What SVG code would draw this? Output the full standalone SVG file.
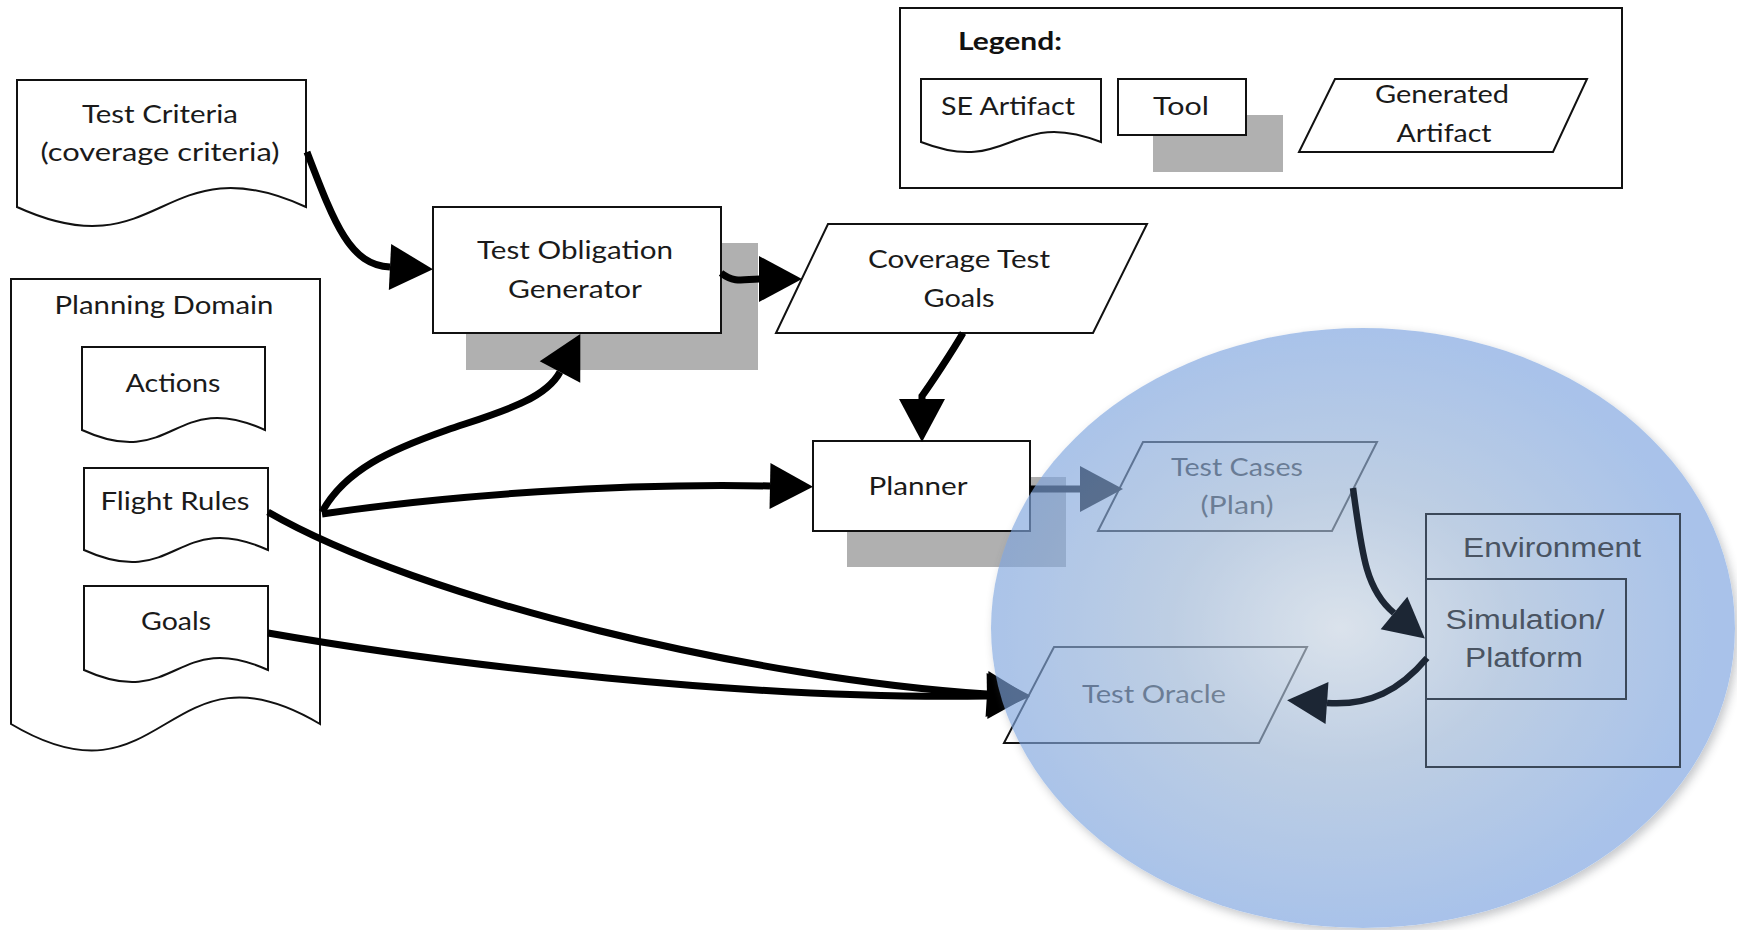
<svg xmlns="http://www.w3.org/2000/svg" width="1737" height="930" viewBox="0 0 1737 930">
  <style>
    .node { fill: #ffffff; stroke: #111111; stroke-width: 2; }
    .shadow { fill: #b0b0b0; stroke: none; }
    .t { font-family: Lato, "Liberation Sans", sans-serif; font-size: 25px; fill: #1a1a1a; text-anchor: middle; }
    .title { font-family: Lato, "Liberation Sans", sans-serif; font-size: 24px; font-weight: bold; fill: #111111; }
    .env-box { fill: none; stroke: #3b4859; stroke-width: 2; }
    .env-t { font-family: "Liberation Sans", Arial, sans-serif; font-size: 27px; fill: #4a5462; text-anchor: middle; }
    .conn { fill: none; stroke: #000000; stroke-width: 7; stroke-linecap: butt; }
    .conn-dark { fill: none; stroke: #1c2634; stroke-width: 6.5; }
  </style>
  <defs>
    <marker id="head" markerUnits="userSpaceOnUse" markerWidth="44" markerHeight="46" refX="0" refY="23" orient="auto" overflow="visible">
      <path d="M0,0 L43,23 L0,46 Z" fill="#000000"/>
    </marker>
    <marker id="head-dark" markerUnits="userSpaceOnUse" markerWidth="42" markerHeight="42" refX="0" refY="21" orient="auto" overflow="visible">
      <path d="M0,0 L40,21 L0,42 Z" fill="#1c2634"/>
    </marker>
    <radialGradient id="regionFill" cx="0.47" cy="0.5" r="0.5">
      <stop offset="0" stop-color="#c8d4e2"/>
      <stop offset="0.45" stop-color="#9cb5d5"/>
      <stop offset="1" stop-color="#7ba3df"/>
    </radialGradient>
    <filter id="rimShadow" x="-5%" y="-5%" width="110%" height="112%">
      <feGaussianBlur in="SourceAlpha" stdDeviation="5"/>
      <feOffset dx="3" dy="4" result="blur"/>
      <feFlood flood-color="#4a4f58" flood-opacity="0.5"/>
      <feComposite in2="blur" operator="in"/>
      <feComposite in2="SourceAlpha" operator="out" result="rim"/>
      <feMerge>
        <feMergeNode in="rim"/>
        <feMergeNode in="SourceGraphic"/>
      </feMerge>
    </filter>
  </defs>

  <rect x="0" y="0" width="1737" height="930" fill="#ffffff"/>

  <!-- Legend -->
  <g id="legend">
    <rect x="900" y="8" width="722" height="180" fill="#ffffff" stroke="#111111" stroke-width="2"/>
    <text class="title" x="958" y="50" textLength="104" lengthAdjust="spacingAndGlyphs">Legend:</text>
    <g id="legend-se-artifact">
      <path class="node" d="M921,79 H1101 V142 C1011,107 1011,177 921,142 Z"/>
      <text class="t" x="1008" y="115" textLength="134" lengthAdjust="spacingAndGlyphs">SE Artifact</text>
    </g>
    <g id="legend-tool">
      <rect class="shadow" x="1153" y="115" width="130" height="57"/>
      <rect class="node" x="1118" y="79" width="128" height="56"/>
      <text class="t" x="1181" y="115" textLength="56" lengthAdjust="spacingAndGlyphs">Tool</text>
    </g>
    <g id="legend-generated">
      <polygon class="node" points="1335,79 1587,79 1553,152 1299,152"/>
      <text class="t" x="1442" y="103" textLength="134" lengthAdjust="spacingAndGlyphs">Generated</text>
      <text class="t" x="1444" y="142" textLength="95" lengthAdjust="spacingAndGlyphs">Artifact</text>
    </g>
  </g>

  <!-- Nodes -->
  <g id="test-criteria">
    <path class="node" d="M17,80 H306 V207 C161.5,141 161.5,273 17,207 Z"/>
    <text class="t" x="160" y="123" textLength="156" lengthAdjust="spacingAndGlyphs">Test Criteria</text>
    <text class="t" x="160" y="161" textLength="239" lengthAdjust="spacingAndGlyphs">(coverage criteria)</text>
  </g>

  <g id="test-obligation-generator">
    <rect class="shadow" x="466" y="243" width="292" height="127"/>
    <rect class="node" x="433" y="207" width="288" height="126"/>
    <text class="t" x="575" y="259" textLength="196" lengthAdjust="spacingAndGlyphs">Test Obligation</text>
    <text class="t" x="575" y="298" textLength="134" lengthAdjust="spacingAndGlyphs">Generator</text>
  </g>

  <g id="planning-domain">
    <path class="node" d="M11,279 H320 V724 C165.5,632 165.5,816 11,724 Z"/>
    <text class="t" x="164" y="314" textLength="219" lengthAdjust="spacingAndGlyphs">Planning Domain</text>
  </g>

  <g id="actions">
    <path class="node" d="M82,347 H265 V430 C173.5,388 173.5,472 82,430 Z"/>
    <text class="t" x="173" y="392" textLength="95" lengthAdjust="spacingAndGlyphs">Actions</text>
  </g>

  <g id="flight-rules">
    <path class="node" d="M84,468 H268 V550 C176,508 176,592 84,550 Z"/>
    <text class="t" x="175" y="510" textLength="149" lengthAdjust="spacingAndGlyphs">Flight Rules</text>
  </g>

  <g id="goals">
    <path class="node" d="M84,586 H268 V670 C176,628 176,712 84,670 Z"/>
    <text class="t" x="176" y="630" textLength="70" lengthAdjust="spacingAndGlyphs">Goals</text>
  </g>

  <g id="coverage-test-goals">
    <polygon class="node" points="828,224 1147,224 1093,333 776,333"/>
    <text class="t" x="959" y="268" textLength="182" lengthAdjust="spacingAndGlyphs">Coverage Test</text>
    <text class="t" x="959" y="307" textLength="71" lengthAdjust="spacingAndGlyphs">Goals</text>
  </g>

  <g id="planner">
    <rect class="shadow" x="847" y="477" width="219" height="90"/>
    <rect class="node" x="813" y="441" width="217" height="90"/>
    <text class="t" x="918" y="495" textLength="99" lengthAdjust="spacingAndGlyphs">Planner</text>
  </g>

  <g id="test-cases">
    <polygon class="node" points="1143,442 1377,442 1332,531 1098,531"/>
    <text class="t" x="1237" y="476" textLength="132" lengthAdjust="spacingAndGlyphs">Test Cases</text>
    <text class="t" x="1237" y="514" textLength="73" lengthAdjust="spacingAndGlyphs">(Plan)</text>
  </g>

  <g id="test-oracle">
    <polygon class="node" points="1054,647 1307,647 1259,743 1004,743"/>
    <text class="t" x="1154" y="703" textLength="144" lengthAdjust="spacingAndGlyphs">Test Oracle</text>
  </g>

  <!-- Connectors -->
  <g id="connectors">
    <path class="conn" d="M307,152 C335,225 350,265 390,267" marker-end="url(#head)"/>
    <path class="conn" d="M721,273 C735,284 745,279 759,279" marker-end="url(#head)"/>
    <path class="conn" d="M963,333 C952,352 930,385 922,396 L922,399" marker-end="url(#head)"/>
    <path class="conn" d="M322,512 C345,470 390,450 447,430 C500,412 545,400 560,372" marker-end="url(#head)"/>
    <path class="conn" d="M322,514 C450,495 620,483 770,486" marker-end="url(#head)"/>
    <path class="conn" d="M268,512 C420,600 760,680 987,694" marker-end="url(#head)"/>
    <path class="conn" d="M268,633 C450,665 750,700 987,696" marker-end="url(#head)"/>
    <path class="conn" d="M1030,489 L1080,489" marker-end="url(#head)"/>
  </g>

  <!-- Shaded execution region -->
  <g id="execution-region" opacity="0.65">
    <ellipse cx="1363" cy="628" rx="372" ry="300" fill="url(#regionFill)" filter="url(#rimShadow)"/>
  </g>

  <g id="environment">
    <rect class="env-box" x="1426" y="514" width="254" height="253"/>
    <text class="env-t" x="1552" y="557" textLength="178" lengthAdjust="spacingAndGlyphs">Environment</text>
    <g id="simulation-platform">
      <rect class="env-box" x="1426" y="579" width="200" height="120"/>
      <text class="env-t" x="1525" y="629" textLength="159" lengthAdjust="spacingAndGlyphs" fill="#3f4855">Simulation/</text>
      <text class="env-t" x="1524" y="667" textLength="118" lengthAdjust="spacingAndGlyphs" fill="#3f4855">Platform</text>
    </g>
  </g>

  <g id="connectors-environment">
    <path class="conn-dark" d="M1353,488 C1362,555 1366,590 1394,613" marker-end="url(#head-dark)"/>
    <path class="conn-dark" d="M1427,658 C1400,690 1370,706 1327,703" marker-end="url(#head-dark)"/>
  </g>
</svg>
